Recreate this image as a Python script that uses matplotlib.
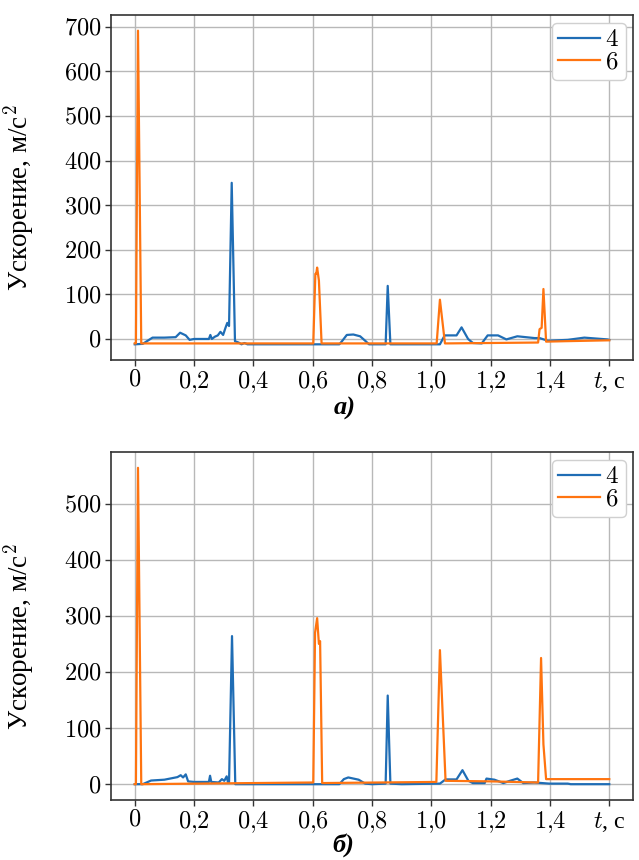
import matplotlib
matplotlib.use("Agg")
import matplotlib.pyplot as plt
from matplotlib.ticker import FixedLocator, FixedFormatter

plt.rcParams['font.family'] = ['Liberation Serif', 'DejaVu Serif']
plt.rcParams['mathtext.fontset'] = 'cm'

# ---- data: panel a ----
t4a = [0, 0.027, 0.06, 0.10, 0.138, 0.153, 0.172, 0.185, 0.20, 0.25, 0.255, 0.26,
       0.27, 0.28, 0.289, 0.298, 0.306, 0.312, 0.318, 0.327, 0.338, 0.35, 0.36,
       0.37, 0.38, 0.69, 0.70, 0.715, 0.737, 0.76, 0.777, 0.79, 0.846, 0.853,
       0.862, 1.029, 1.045, 1.085, 1.102, 1.124, 1.14, 1.17, 1.19, 1.225, 1.253,
       1.29, 1.348, 1.365, 1.393, 1.46, 1.516, 1.594, 1.6]
y4a = [-12, -11, 3, 3, 4, 14, 8, -2, 0, 0, 9, 0,
       5, 8, 16, 9, 25, 36, 29, 350, -5, -8, -12,
       -9, -12, -12, -4, 9, 10, 6, -4, -12, -12, 119,
       -12, -12, 8, 8, 26, 0, -9, -10, 8, 8, -1,
       6, 2, 2, -4, -2, 3, -1, -2]

t6a = [0, 0.004, 0.011, 0.022, 0.10, 0.602, 0.609, 0.612, 0.615, 0.621, 0.63,
       1.018, 1.029, 1.046, 1.36, 1.365, 1.372, 1.378, 1.387, 1.45, 1.6]
y6a = [-10, -10, 691, -10, -10, -10, 146, 146, 160, 131, -10,
       -10, 88, -10, -8, 22, 25, 112, -6, -5, -3]

# ---- data: panel b ----
t4b = [0, 0.027, 0.055, 0.10, 0.144, 0.155, 0.163, 0.172, 0.18, 0.20, 0.25,
       0.254, 0.258, 0.283, 0.294, 0.302, 0.31, 0.314, 0.318, 0.328, 0.339,
       0.36, 0.69, 0.705, 0.72, 0.755, 0.777, 0.80, 0.846, 0.853, 0.862, 0.90,
       1.029, 1.048, 1.085, 1.105, 1.125, 1.14, 1.18, 1.186, 1.213, 1.243,
       1.265, 1.29, 1.31, 1.348, 1.398, 1.46, 1.47, 1.6]
y4b = [0, 0, 6.5, 8, 12.6, 16, 12, 17.5, 5, 4, 4,
       15, 4, 3, 9, 6, 14, 4, 3, 264, 0,
       0, 0, 9, 12, 8, 1, 0, 1, 158, 1, 0,
       1, 8.5, 8.5, 25, 6, 2, 2, 10, 8, 2,
       6, 10, 2, 3, 1, 1, 0, 0]

t6b = [0, 0.004, 0.011, 0.022, 0.30, 0.602, 0.608, 0.615, 0.621, 0.625, 0.632,
       1.017, 1.029, 1.048, 1.20, 1.36, 1.37, 1.378, 1.387, 1.6]
y6b = [0, 0, 564, 0, 1.5, 3, 270, 296, 250, 255, 2,
       4, 239, 6, 5, 3, 225, 71, 9, 9]

series_labels = ['4', '6']
colors = ['#1f6db5', '#ff7410']
xticks = [0, 0.2, 0.4, 0.6, 0.8, 1.0, 1.2, 1.4, 1.6]
xticklabels = ['$0$', '$0{,}2$', '$0{,}4$', '$0{,}6$', '$0{,}8$', '$1{,}0$',
               '$1{,}2$', '$1{,}4$', '$t$, с']
yticks_a = [0, 100, 200, 300, 400, 500, 600, 700]
yticks_b = [0, 100, 200, 300, 400, 500]
ylabel = 'Ускорение, м/с$^2$'
captions = ['а)', 'б)']

W, H = 639, 860
fig = plt.figure(figsize=(W / 100, H / 100), dpi=100)
ax1 = fig.add_axes([111 / W, 1 - 360 / H, 522 / W, 345 / H])
ax2 = fig.add_axes([111 / W, 1 - 800 / H, 522 / W, 348 / H])

FS = 17.5
panels = [(ax1, t4a, y4a, t6a, y6a, yticks_a), (ax2, t4b, y4b, t6b, y6b, yticks_b)]
for ax, ta, ya, tb, yb, yt in panels:
    ax.plot(ta, ya, color=colors[0], lw=1.6, label=series_labels[0])
    ax.plot(tb, yb, color=colors[1], lw=1.6, label=series_labels[1])
    ax.xaxis.set_major_locator(FixedLocator(xticks))
    ax.xaxis.set_major_formatter(FixedFormatter(xticklabels))
    ax.set_yticks(yt)
    ax.set_yticklabels(['$%d$' % v for v in yt])
    ax.tick_params(labelsize=FS, length=4, width=1, color='#333333', pad=3)
    ax.grid(True, color='#b8b8b8', lw=1.0)
    ax.set_axisbelow(True)
    for s in ax.spines.values():
        s.set_color('#333333')
        s.set_linewidth(1.2)
    ax.set_ylabel(ylabel, fontsize=19.5)
    ax.yaxis.set_label_coords(-0.142, 0.47)
    leg = ax.legend(loc='upper right', fontsize=18, handlelength=1.7,
                    labelspacing=0.0, borderpad=0.25, handletextpad=0.2,
                    borderaxespad=0.3, fancybox=True, framealpha=1.0,
                    edgecolor='#d0d0d0')
    for txt in leg.get_texts():
        txt.set_text('$%s$' % txt.get_text())

fig.text(345 / W, 1 - 408 / H, captions[0], ha='center', va='center',
         fontsize=19, fontstyle='italic', fontweight='bold')
fig.text(343 / W, 1 - 845 / H, captions[1], ha='center', va='center',
         fontsize=19, fontstyle='italic', fontweight='bold')

fig.savefig('out.png', dpi=100)
